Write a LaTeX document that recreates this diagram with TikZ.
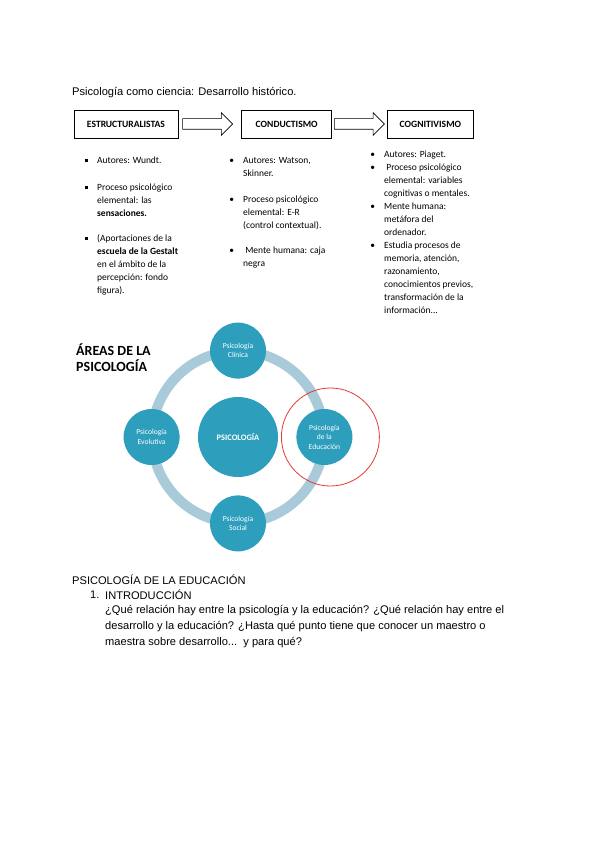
\documentclass[tikz,border=0pt]{standalone}
\usepackage{fontspec}
\setmainfont{Liberation Sans}
\newfontfamily\calib{Carlito}
\usetikzlibrary{shapes.arrows,positioning,calc}
\definecolor{areafill}{HTML}{2E9EBD}
\definecolor{ringfill}{HTML}{A9CAD9}
\definecolor{markred}{HTML}{E53935}
\newcommand{\sqb}{\llap{\rule[1.4pt]{3pt}{3pt}\hspace{9pt}}}
\newcommand{\rdb}{\llap{\textbullet\hspace{9pt}}}

\begin{document}
\begin{tikzpicture}[x=1pt,y=-1pt,
 box/.style={draw,line width=0.7pt,minimum height=28pt,inner sep=0pt,font=\calib\bfseries\fontsize{9.6}{10}\selectfont},
 blockarrow/.style={single arrow,draw,line width=0.6pt,minimum height=50pt,minimum width=22pt,inner sep=0pt,inner ysep=5pt,single arrow head extend=6pt,anchor=west},
 col/.style={anchor=north west,inner sep=0pt,align=left,font=\calib\fontsize{9.5}{13}\selectfont},
 area/.style={circle,fill=areafill,text=white,minimum size=56pt,inner sep=0pt,align=center,font=\calib\fontsize{7.6}{9.5}\selectfont},
 ring/.style={draw=ringfill,line width=10pt},
 body/.style={anchor=west,inner sep=0pt,font=\fontsize{11.1}{16}\selectfont}]
\fill[white] (0,0) rectangle (600,848);
\useasboundingbox (0,0) rectangle (600,848);

% historical line
\node[body] (title) at (72,93) {Psicología como ciencia: Desarrollo histórico.};
\node[box,minimum width=104pt] (estr) at (126,124) {ESTRUCTURALISTAS};
\node[blockarrow,right=4pt of estr] (a1) {};
\node[box,minimum width=90pt,right=63pt of estr] (cond) {CONDUCTISMO};
\node[blockarrow,right=2pt of cond] (a2) {};
\node[box,minimum width=86pt,right=55pt of cond] (cogn) {COGNITIVISMO};

\node[col] (c1) at (97,157) {\sqb Autores: Wundt.\\[14pt]
 \sqb Proceso psicológico\\ elemental: las\\ \textbf{sensaciones.}\\[12pt]
 \sqb (Aportaciones de la\\ \textbf{escuela de la Gestalt}\\ en el ámbito de la\\ percepción: fondo\\ figura).};
\node[col] (c2) at (243,157) {\rdb Autores: Watson,\\ Skinner.\\[13pt]
 \rdb Proceso psicológico\\ elemental: E-R\\ (control contextual).\\[12pt]
 \rdb\ Mente humana: caja\\ negra};
\node[col] (c3) at (384,151) {\rdb Autores: Piaget.\\ \rdb\ Proceso psicológico\\ elemental: variables\\ cognitivas o mentales.\\
 \rdb Mente humana:\\ metáfora del\\ ordenador.\\
 \rdb Estudia procesos de\\ memoria, atención,\\ razonamiento,\\ conocimientos previos,\\ transformación de la\\ información...};

% areas
\node[anchor=north west,inner sep=0pt,align=left,font=\calib\bfseries\fontsize{14}{15.5}\selectfont] (areas) at (76,344) {ÁREAS DE LA\\PSICOLOGÍA};
\node[area,minimum size=80pt,font=\calib\bfseries\fontsize{8.4}{10}\selectfont] (psi) at (238,437) {PSICOLOGÍA};
\draw[ring] (psi.center) circle[radius=86];
\node[area,above=18pt of psi] (cli) {Psicología\\Clínica};
\node[area,left=18pt of psi] (evo) {Psicología\\Evolutiva};
\node[area,right=18pt of psi] (edu) {Psicología\\de la\\Educación};
\node[area,below=18pt of psi] (soc) {Psicología\\Social};
\draw[markred,line width=0.8pt] ($(edu)+(6,0)$) circle[radius=49];

% text
\node[body] (sub) at (72,580) {PSICOLOGÍA DE LA EDUCACIÓN};
\node[body] (num) at (90,595) {1.};
\node[body] (intro) at (105,595) {INTRODUCCIÓN};
\node[body,anchor=north west,align=left] (q) at (105,605) {¿Qué relación hay entre la psicología y la educación? ¿Qué relación hay entre el\\
 desarrollo y la educación? ¿Hasta qué punto tiene que conocer un maestro o\\
 maestra sobre desarrollo...\ \ y para qué?};
\end{tikzpicture}
\end{document}
